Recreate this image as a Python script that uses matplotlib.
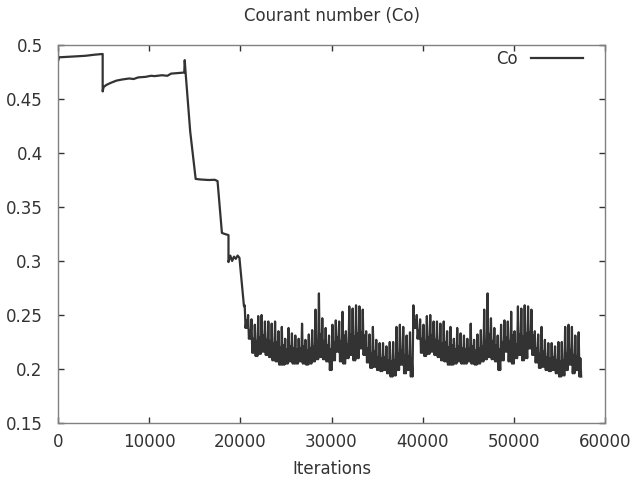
import numpy as np
import matplotlib
matplotlib.use('Agg')
import matplotlib.pyplot as plt


# start-up part of the run
head_iter = [0, 0, 100, 1000, 2000, 3000, 4000, 4900, 4900, 5000, 5300, 5800,
             6400, 7000, 7800, 8300, 8800, 9600, 10200, 10600, 11400, 12000, 12400,
             13200, 13850, 13900, 14000, 14500, 15100, 15600, 16500, 17200, 17500,
             17980, 18300, 18700, 18700, 18900, 19100, 19300, 19500, 19700, 19900, 20400]
head_co = [0.496, 0.485, 0.4886, 0.489, 0.4895, 0.490, 0.491, 0.4917, 0.457, 0.461,
           0.463, 0.465, 0.467, 0.468, 0.469, 0.4685, 0.470, 0.4705, 0.4715, 0.4712,
           0.472, 0.4715, 0.4735, 0.474, 0.4745, 0.486, 0.474, 0.420, 0.376, 0.3755,
           0.375, 0.3752, 0.374, 0.326, 0.325, 0.324, 0.299, 0.305, 0.300, 0.304,
           0.302, 0.305, 0.303, 0.258]

# noisy part: upper edge, lower edge and top of the dense band for one cycle;
# the same cycle shows up twice
noise_hi = [0.259, 0.250, 0.246, 0.241, 0.249, 0.250, 0.244, 0.244, 0.242, 0.244,
            0.235, 0.239, 0.228, 0.238, 0.233, 0.231, 0.228, 0.242, 0.227, 0.232,
            0.236, 0.255, 0.270, 0.247, 0.238, 0.231, 0.241, 0.245, 0.244, 0.253,
            0.235, 0.258, 0.256, 0.259, 0.258, 0.255, 0.235, 0.232, 0.239, 0.227,
            0.224, 0.224, 0.221, 0.225, 0.225, 0.239, 0.241, 0.239, 0.231, 0.234]
noise_lo = [0.238, 0.228, 0.215, 0.212, 0.214, 0.216, 0.213, 0.211, 0.208, 0.207,
            0.204, 0.204, 0.205, 0.207, 0.205, 0.205, 0.207, 0.205, 0.204, 0.205,
            0.207, 0.209, 0.211, 0.209, 0.207, 0.199, 0.208, 0.216, 0.207, 0.205,
            0.210, 0.213, 0.208, 0.210, 0.219, 0.213, 0.206, 0.201, 0.202, 0.199,
            0.198, 0.199, 0.196, 0.193, 0.194, 0.199, 0.204, 0.196, 0.199, 0.193]
noise_mid = [0.245, 0.236, 0.228, 0.226, 0.229, 0.231, 0.227, 0.226, 0.224, 0.225,
             0.220, 0.222, 0.218, 0.221, 0.219, 0.218, 0.219, 0.221, 0.217, 0.219,
             0.221, 0.224, 0.232, 0.226, 0.222, 0.218, 0.225, 0.229, 0.226, 0.231,
             0.223, 0.232, 0.230, 0.233, 0.234, 0.231, 0.219, 0.214, 0.216, 0.211,
             0.210, 0.211, 0.208, 0.207, 0.208, 0.214, 0.217, 0.213, 0.212, 0.210]
noise_start = 20480
noise_step = 370
noise_cycles = 2

it = list(head_iter)
co = list(head_co)
cycle_len = noise_step * len(noise_hi)
q = noise_step / 4
for p in range(noise_cycles):
    for i in range(len(noise_hi)):
        t = noise_start + p * cycle_len + i * noise_step
        it += [t, t + q, t + 2 * q, t + 3 * q]
        co += [noise_hi[i], noise_lo[i], noise_mid[i], noise_lo[i]]

fig = plt.figure(figsize=(6.33, 4.83), dpi=100)
ax = fig.add_axes([58 / 633, 1 - 423 / 483, 547 / 633, 378 / 483])

ax.plot(it, co, color='#333333', lw=1.6, label='Co')

ax.set_xlim(0, 60000)
ax.set_ylim(0.15, 0.5)
ax.set_xticks(np.arange(0, 60001, 10000))
ax.set_yticks(np.arange(0.15, 0.5001, 0.05))
ax.yaxis.set_major_formatter(matplotlib.ticker.FormatStrFormatter('%g'))
ax.tick_params(direction='in', length=4, width=1, colors='#333333', labelsize=12,
               top=True, right=True)
ax.tick_params(axis='y', pad=11)
ax.tick_params(axis='x', pad=7)
for s in ax.spines.values():
    s.set_color('#808080')
    s.set_linewidth(1)

ax.set_title('Courant number (Co)', fontsize=12, color='#333333', pad=17)
ax.set_xlabel('Iterations', fontsize=12, color='#333333', labelpad=7)

ax.legend(loc='upper right', bbox_to_anchor=(0.959, 0.987), frameon=False,
          markerfirst=False, fontsize=12, handlelength=3.1, handletextpad=0.8,
          borderaxespad=0, borderpad=0, labelcolor='#333333')

fig.savefig('out.png', dpi=100)
